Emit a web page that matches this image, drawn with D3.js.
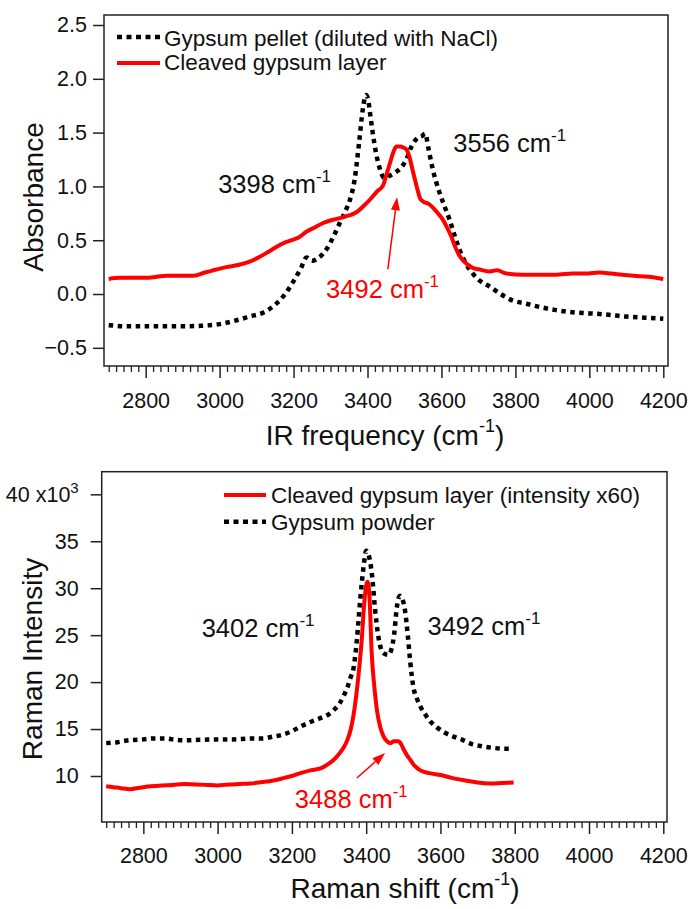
<!DOCTYPE html>
<html>
<head>
<meta charset="utf-8">
<script src="https://cdn.jsdelivr.net/npm/d3@7"></script>
<style>
  html, body { margin: 0; padding: 0; background: #fff; }
  svg { display: block; font-family: "Liberation Sans", Arial, sans-serif; }
</style>
</head>
<body>
<svg id="chart" width="691" height="909"></svg>
<script>
// ---------------- IR panel data ----------------
const irPelletX = [2700,2750,2800,2850,2900,2950,3000,3040,3080,3120,3150,3175,3200,3220,3235,3250,3265,3290,3310,3325,3340,3352,3365,3378,3387,3396,3402,3408,3414,3422,3432,3445,3460,3475,3490,3505,3520,3535,3548,3556,3565,3575,3585,3595,3610,3622,3635,3649,3665,3685,3705,3730,3760,3792,3830,3865,3910,3954,4000,4045,4100,4150,4200];
const irPelletY = [-0.29,-0.30,-0.30,-0.30,-0.30,-0.295,-0.28,-0.25,-0.21,-0.17,-0.10,-0.01,0.12,0.24,0.34,0.31,0.33,0.42,0.55,0.66,0.77,0.87,1.06,1.43,1.71,1.85,1.80,1.65,1.50,1.33,1.18,1.08,1.10,1.13,1.17,1.25,1.38,1.45,1.47,1.49,1.35,1.18,1.05,0.94,0.80,0.69,0.55,0.41,0.29,0.19,0.12,0.07,0.00,-0.06,-0.09,-0.12,-0.15,-0.17,-0.18,-0.19,-0.21,-0.22,-0.23];
const irLayerX = [2700,2730,2760,2800,2830,2856,2900,2930,2960,2982,3018,3050,3081,3105,3126,3150,3171,3195,3216,3235,3252,3280,3306,3330,3350,3370,3390,3410,3425,3442,3452,3461,3470,3478,3488,3498,3506,3513,3520,3527,3533,3542,3550,3564,3575,3588,3602,3615,3626,3637,3648,3659,3672,3686,3700,3730,3750,3776,3820,3865,3910,3955,3990,4027,4060,4089,4120,4160,4200];
const irLayerY = [0.14,0.15,0.15,0.15,0.16,0.17,0.17,0.17,0.20,0.22,0.25,0.27,0.30,0.34,0.38,0.43,0.47,0.50,0.53,0.58,0.61,0.66,0.69,0.71,0.73,0.76,0.82,0.89,0.95,1.01,1.12,1.22,1.32,1.37,1.37,1.36,1.34,1.28,1.18,1.08,1.00,0.89,0.86,0.84,0.81,0.76,0.70,0.62,0.54,0.44,0.36,0.31,0.27,0.24,0.23,0.21,0.22,0.19,0.18,0.18,0.18,0.19,0.19,0.20,0.19,0.18,0.17,0.16,0.14];

// ---------------- Raman panel data (x10^3) ----------------
const ramanPowderX = [2700,2730,2760,2800,2830,2860,2880,2910,2950,3000,3040,3090,3120,3150,3175,3196,3220,3241,3265,3285,3300,3312,3328,3339,3350,3358,3366,3375,3384,3393,3400,3407,3416,3424,3433,3446,3460,3468,3475,3483,3491,3498,3505,3512,3519,3527,3537,3546,3560,3573,3590,3608,3635,3662,3685,3707,3740,3780,3795];
const ramanPowderY = [13.5,13.6,13.8,13.9,14.0,14.0,13.9,13.8,13.85,13.9,13.9,14.0,14.0,14.2,14.4,14.7,15.2,15.6,16.0,16.3,16.6,17.0,17.7,18.5,19.5,20.5,21.5,24.5,28.8,32.3,34.0,33.5,31.3,27.7,24.8,23.1,22.9,23.5,25.0,28.1,29.2,28.8,27.5,25.0,22.0,19.5,18.2,17.4,16.5,15.8,15.2,14.7,14.2,13.8,13.4,13.2,13.0,12.9,12.9];
const ramanLayerX = [2700,2720,2740,2765,2790,2819,2850,2880,2908,2940,2970,2999,3030,3060,3088,3120,3140,3160,3180,3200,3223,3250,3277,3295,3312,3326,3339,3350,3358,3366,3373,3380,3388,3395,3400,3404,3409,3415,3422,3429,3438,3447,3456,3465,3475,3487,3494,3500,3510,3519,3530,3546,3570,3600,3630,3671,3700,3734,3765,3797];
const ramanLayerY = [8.9,8.8,8.7,8.6,8.75,8.9,9.0,9.05,9.15,9.1,9.05,9.0,9.1,9.15,9.2,9.35,9.45,9.6,9.8,10.0,10.3,10.6,10.8,11.2,11.7,12.3,13.0,13.9,14.9,16.5,18.5,21.0,24.5,28.5,30.3,30.7,29.0,23.0,19.5,17.0,15.2,14.2,13.7,13.5,13.7,13.7,13.4,12.9,12.2,11.7,11.1,10.6,10.3,10.1,9.8,9.5,9.3,9.2,9.25,9.3];

// ---------------- tick labels ----------------
const xTickValues = [2800,3000,3200,3400,3600,3800,4000,4200];
const irYTicks = [-0.5,0.0,0.5,1.0,1.5,2.0,2.5];
const ramanYTicks = [10,15,20,25,30,35,40];

const FONT = '"Liberation Sans", Arial, sans-serif';
const RED = "#ff0000";
const INK = "#111";
const svg = d3.select("#chart");

function zip(xs, ys){ return xs.map((x,i)=>[x, ys[i]]); }

function supText(sel, main, sup, fs, sfs, dy, tail){
  sel.append("tspan").text(main);
  sel.append("tspan").attr("dy", -dy).attr("font-size", sfs).text(sup);
  if (tail) sel.append("tspan").attr("dy", dy).attr("font-size", fs).text(tail);
}

function panel(cfg){
  const g = svg.append("g");
  const x = d3.scaleLinear().domain([2700,4200]).range(cfg.xRange);
  const y = d3.scaleLinear().domain(cfg.yDomain).range([cfg.box.y1, cfg.box.y0]);
  const b = cfg.box;

  // frame
  g.append("rect").attr("x", b.x0).attr("y", b.y0)
    .attr("width", b.x1-b.x0).attr("height", b.y1-b.y0)
    .attr("fill","none").attr("stroke","#222").attr("stroke-width",1.5);

  // minor x ticks
  const minor = d3.range(2700, 4201, 20).filter(v => v % 200 !== 0 || v === 2700);
  const gm = g.append("g").attr("transform",`translate(0,${b.y1})`)
    .call(d3.axisBottom(x).tickValues(minor).tickSize(6).tickFormat(""));
  gm.select(".domain").remove();
  gm.selectAll("line").attr("stroke","#222").attr("stroke-width",1.3);

  // major x ticks
  const gx = g.append("g").attr("transform",`translate(0,${b.y1})`)
    .call(d3.axisBottom(x).tickValues(xTickValues).tickSize(12).tickFormat(d3.format("d")));
  gx.select(".domain").remove();
  gx.selectAll("line").attr("stroke","#222").attr("stroke-width",1.5);
  gx.selectAll("text").attr("y", cfg.xLabelBase - b.y1).attr("dy", 0)
    .attr("font-size", 21.5).attr("font-family", FONT).attr("fill", INK);

  // y ticks
  const gy = g.append("g").attr("transform",`translate(${b.x0},0)`)
    .call(d3.axisLeft(y).tickValues(cfg.yTicks).tickSize(11).tickPadding(cfg.yPad).tickFormat(cfg.yFmt));
  gy.select(".domain").remove();
  gy.selectAll("line").attr("stroke","#222").attr("stroke-width",1.5);
  gy.selectAll("text").attr("font-size", 21.5).attr("font-family", FONT).attr("fill", INK);
  if (cfg.yDecorate) cfg.yDecorate(gy);

  const line = d3.line().x(d=>x(d[0])).y(d=>y(d[1])).curve(d3.curveMonotoneX);
  cfg.series.forEach(s => {
    g.append("path").datum(zip(s.xs, s.ys))
      .attr("d", line).attr("fill","none")
      .attr("stroke", s.color).attr("stroke-width", s.width)
      .attr("stroke-dasharray", s.dash || null)
      .attr("stroke-linejoin","round");
  });

  // legend
  cfg.legend.forEach(l => {
    g.append("line").attr("x1", l.x0).attr("x2", l.x1).attr("y1", l.y).attr("y2", l.y)
      .attr("stroke", l.color).attr("stroke-width", l.width).attr("stroke-dasharray", l.dash || null);
    g.append("text").attr("x", l.tx).attr("y", l.ty).text(l.label)
      .attr("font-size", 22.5).attr("font-family", FONT).attr("fill", INK);
  });

  // annotations (positioned in data coordinates)
  cfg.notes.forEach(n => {
    const t = g.append("text").attr("x", x(n.f)).attr("y", y(n.v))
      .attr("font-size", 25.5).attr("font-family", FONT).attr("fill", n.color);
    supText(t, n.text, "-1", 25.5, 17, 11);
  });

  // arrow
  if (cfg.arrow) {
    const a = cfg.arrow;
    const x1 = x(a.f0), y1 = y(a.v0), x2 = x(a.f1), y2 = y(a.v1);
    const ang = Math.atan2(y2-y1, x2-x1);
    const L = 13, W = 4.5;
    const bx = x2 - L*Math.cos(ang), by = y2 - L*Math.sin(ang);
    g.append("line").attr("x1",x1).attr("y1",y1).attr("x2",bx).attr("y2",by)
      .attr("stroke",RED).attr("stroke-width",1.5);
    const px = -Math.sin(ang)*W, py = Math.cos(ang)*W;
    g.append("path").attr("d",`M${x2},${y2}L${bx+px},${by+py}L${bx-px},${by-py}Z`).attr("fill",RED);
  }

  // axis titles
  const xt = svg.append("text").attr("x", cfg.xTitle.x).attr("y", cfg.xTitle.y)
    .attr("text-anchor","middle").attr("font-size", 28).attr("font-family", FONT).attr("fill", INK);
  supText(xt, cfg.xTitle.text, "-1", 28, 18, 13, ")");
  svg.append("text").attr("transform", `translate(${cfg.yTitle.x},${cfg.yTitle.y}) rotate(-90)`)
    .attr("text-anchor","middle").attr("font-size", 28).attr("font-family", FONT).attr("fill", INK)
    .text(cfg.yTitle.text);
}

// ---------------- IR panel ----------------
panel({
  box: {x0:104, x1:668, y0:15, y1:366},
  xRange: [108.7, 663.3],
  yDomain: [-0.669, 2.593],
  yTicks: irYTicks,
  yPad: 6,
  yFmt: d3.format(".1f"),
  xLabelBase: 408,
  series: [
    {xs: irPelletX, ys: irPelletY, color:"#000", width:4.5, dash:"4.5 4.5"},
    {xs: irLayerX, ys: irLayerY, color:RED, width:4}
  ],
  legend: [
    {x0:117, x1:160, y:37, color:"#000", width:4.5, dash:"5 4.5", tx:164, ty:45.5, label:"Gypsum pellet (diluted with NaCl)"},
    {x0:117, x1:160, y:63, color:RED, width:4, tx:164, ty:70, label:"Cleaved gypsum layer"}
  ],
  notes: [
    {f:2996, v:0.94, text:"3398 cm", color:INK},
    {f:3632, v:1.32, text:"3556 cm", color:INK},
    {f:3288, v:-0.04, text:"3492 cm", color:RED}
  ],
  arrow: {f0:3455, v0:0.23, f1:3480, v1:0.90},
  xTitle: {x:385, y:445, text:"IR frequency (cm"},
  yTitle: {x:43, y:197, text:"Absorbance"}
});

// ---------------- Raman panel ----------------
panel({
  box: {x0:101.7, x1:667, y0:471.7, y1:822},
  xRange: [106.2, 663.3],
  yDomain: [5.10, 42.41],
  yTicks: ramanYTicks,
  yPad: 12,
  yFmt: d3.format("d"),
  xLabelBase: 863,
  yDecorate: gy => {
    gy.selectAll(".tick").filter(d => d === 40).select("text")
      .text(null).call(t => {
        t.append("tspan").text("40 x10");
        t.append("tspan").attr("dy", -9).attr("font-size", 15).text("3");
      });
  },
  series: [
    {xs: ramanLayerX, ys: ramanLayerY, color:RED, width:4},
    {xs: ramanPowderX, ys: ramanPowderY, color:"#000", width:4.5, dash:"4.5 4.5"}
  ],
  legend: [
    {x0:224, x1:266, y:495, color:RED, width:4, tx:271, ty:503, label:"Cleaved gypsum layer (intensity x60)"},
    {x0:224, x1:266, y:521.7, color:"#000", width:4.5, dash:"5 4.5", tx:271, ty:529.5, label:"Gypsum powder"}
  ],
  notes: [
    {f:2957, v:24.83, text:"3402 cm", color:INK},
    {f:3565, v:25.0, text:"3492 cm", color:INK},
    {f:3208, v:6.56, text:"3488 cm", color:RED}
  ],
  arrow: {f0:3375, v0:9.79, f1:3451, v1:12.45},
  xTitle: {x:405, y:898, text:"Raman shift (cm"},
  yTitle: {x:42, y:659, text:"Raman Intensity"}
});
</script>
</body>
</html>
